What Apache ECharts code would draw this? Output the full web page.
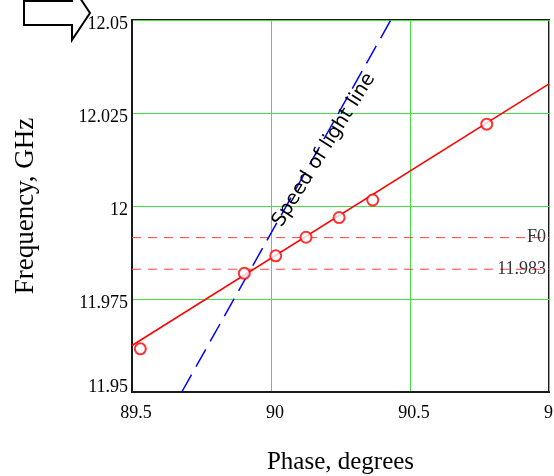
<!DOCTYPE html>
<html>
<head>
<meta charset="utf-8">
<script src="https://cdn.jsdelivr.net/npm/echarts@6/dist/echarts.min.js"></script>
<style>
html,body{margin:0;padding:0;background:#fff;}
#chart{width:554px;height:476px;}
</style>
</head>
<body>
<div id="chart"></div>
<script>
// Measured points (phase in degrees, frequency in GHz)
var phaseDeg = [89.53, 89.904, 90.017, 90.126, 90.245, 90.366, 90.776];
var freqGHz  = [11.9616, 11.9819, 11.9866, 11.9916, 11.9969, 12.0016, 12.0220];
// Linear fit line endpoints
var fitPhase = [89.5, 91.0];
var fitFreq  = [11.9625, 12.0328];
// Speed of light line endpoints
var lightPhase = [89.679, 90.431];
var lightFreq  = [11.95, 12.05];
// Horizontal reference lines
var refValues = [11.9915, 11.983];
var refLabels = ['F0', '11.983'];
// Axes
var xTicks = [89.5, 90, 90.5, 91];
var yTicks = [11.95, 11.975, 12, 12.025, 12.05];

function pairs(a, b) { return a.map(function (v, i) { return [v, b[i]]; }); }

var serif = 'Liberation Serif';
var xMin = xTicks[0], xMax = xTicks[xTicks.length - 1];

var refSeries = [];
refValues.forEach(function (v, i) {
  refSeries.push({
    type: 'line', data: [[xMin, v], [xMax, v]], symbol: 'none', silent: true,
    lineStyle: { color: '#ff4444', width: 1, type: [9, 7] }, z: 2
  });
  refSeries.push({
    type: 'scatter', data: [[xMax, v]], symbolSize: 0, silent: true, z: 5,
    label: { show: true, position: 'left', distance: 3, fontFamily: serif, fontSize: 18, color: '#000',
      formatter: refLabels[i] }
  });
});

var chart = echarts.init(document.getElementById('chart'));
chart.setOption({
  animation: false,
  backgroundColor: '#ffffff',
  grid: { left: 132, top: 20, right: 5, bottom: 84, containLabel: false, outerBoundsMode: 'none',
    show: true, borderColor: '#1a1a1a', borderWidth: 2, backgroundColor: 'transparent' },
  xAxis: {
    type: 'value', min: xMin, max: xMax, interval: 0.5,
    name: 'Phase, degrees', nameLocation: 'middle', nameGap: 58,
    nameTextStyle: { fontFamily: serif, fontSize: 25, color: '#000' },
    axisLine: { show: true, onZero: false, lineStyle: { color: '#1a1a1a', width: 2 } },
    axisTick: { show: false },
    splitLine: { show: true, lineStyle: { color: '#44e044', width: 1 } },
    axisLabel: { fontFamily: serif, fontSize: 18, color: '#000', margin: 12, padding: [0, 0, 0, 8],
      hideOverlap: false,
      formatter: function (v) { return String(parseFloat(v.toFixed(3))); } }
  },
  yAxis: {
    type: 'value', min: yTicks[0], max: yTicks[yTicks.length - 1], interval: 0.025,
    name: 'Frequency, GHz', nameLocation: 'middle', nameGap: 93, nameRotate: 90,
    nameTextStyle: { fontFamily: serif, fontSize: 27, color: '#000' },
    axisLine: { show: true, onZero: false, lineStyle: { color: '#1a1a1a', width: 2 } },
    axisTick: { show: false },
    splitLine: { show: true, lineStyle: { color: '#44e044', width: 1 } },
    axisLabel: { fontFamily: serif, fontSize: 18, color: '#000', margin: 4,
      hideOverlap: false,
      formatter: function (v) {
        var s = String(parseFloat(v.toFixed(3)));
        return Math.abs(v - yTicks[0]) < 1e-9 ? '{lo|' + s + '}' : '{n|' + s + '}';
      },
      rich: {
        n: { fontFamily: serif, fontSize: 18, color: '#000', padding: [8, 0, 0, 0] },
        lo: { fontFamily: serif, fontSize: 18, color: '#000', padding: [0, 0, 10, 0] }
      }
    }
  },
  series: [
    {
      type: 'line', data: pairs(fitPhase, fitFreq), symbol: 'none',
      lineStyle: { color: '#ff0000', width: 1.5 }, z: 3
    },
    {
      type: 'line', data: pairs(lightPhase, lightFreq), symbol: 'none',
      lineStyle: { color: '#0000ff', width: 1.5, type: [20, 9] }, z: 3
    },
    {
      type: 'scatter', data: pairs(phaseDeg, freqGHz), symbol: 'emptyCircle', symbolSize: 11,
      itemStyle: { color: '#ff0000', borderColor: '#ff0000', borderWidth: 1.5 }, z: 4
    }
  ].concat(refSeries),
  graphic: [
    {
      type: 'polygon', z: 10,
      shape: { points: [[24, 1], [72, 1], [72, -14], [90, 13], [72, 40], [72, 25], [24, 25]] },
      style: { fill: '#fff', stroke: '#000', lineWidth: 2 }
    },
    {
      type: 'text', z: 10, x: 324, y: 150, rotation: 58 * Math.PI / 180,
      style: { text: 'Speed of light line', fontFamily: 'DejaVu Sans', fontSize: 19.5, fill: '#000',
        align: 'center', verticalAlign: 'middle' }
    }
  ]
});
</script>
</body>
</html>
